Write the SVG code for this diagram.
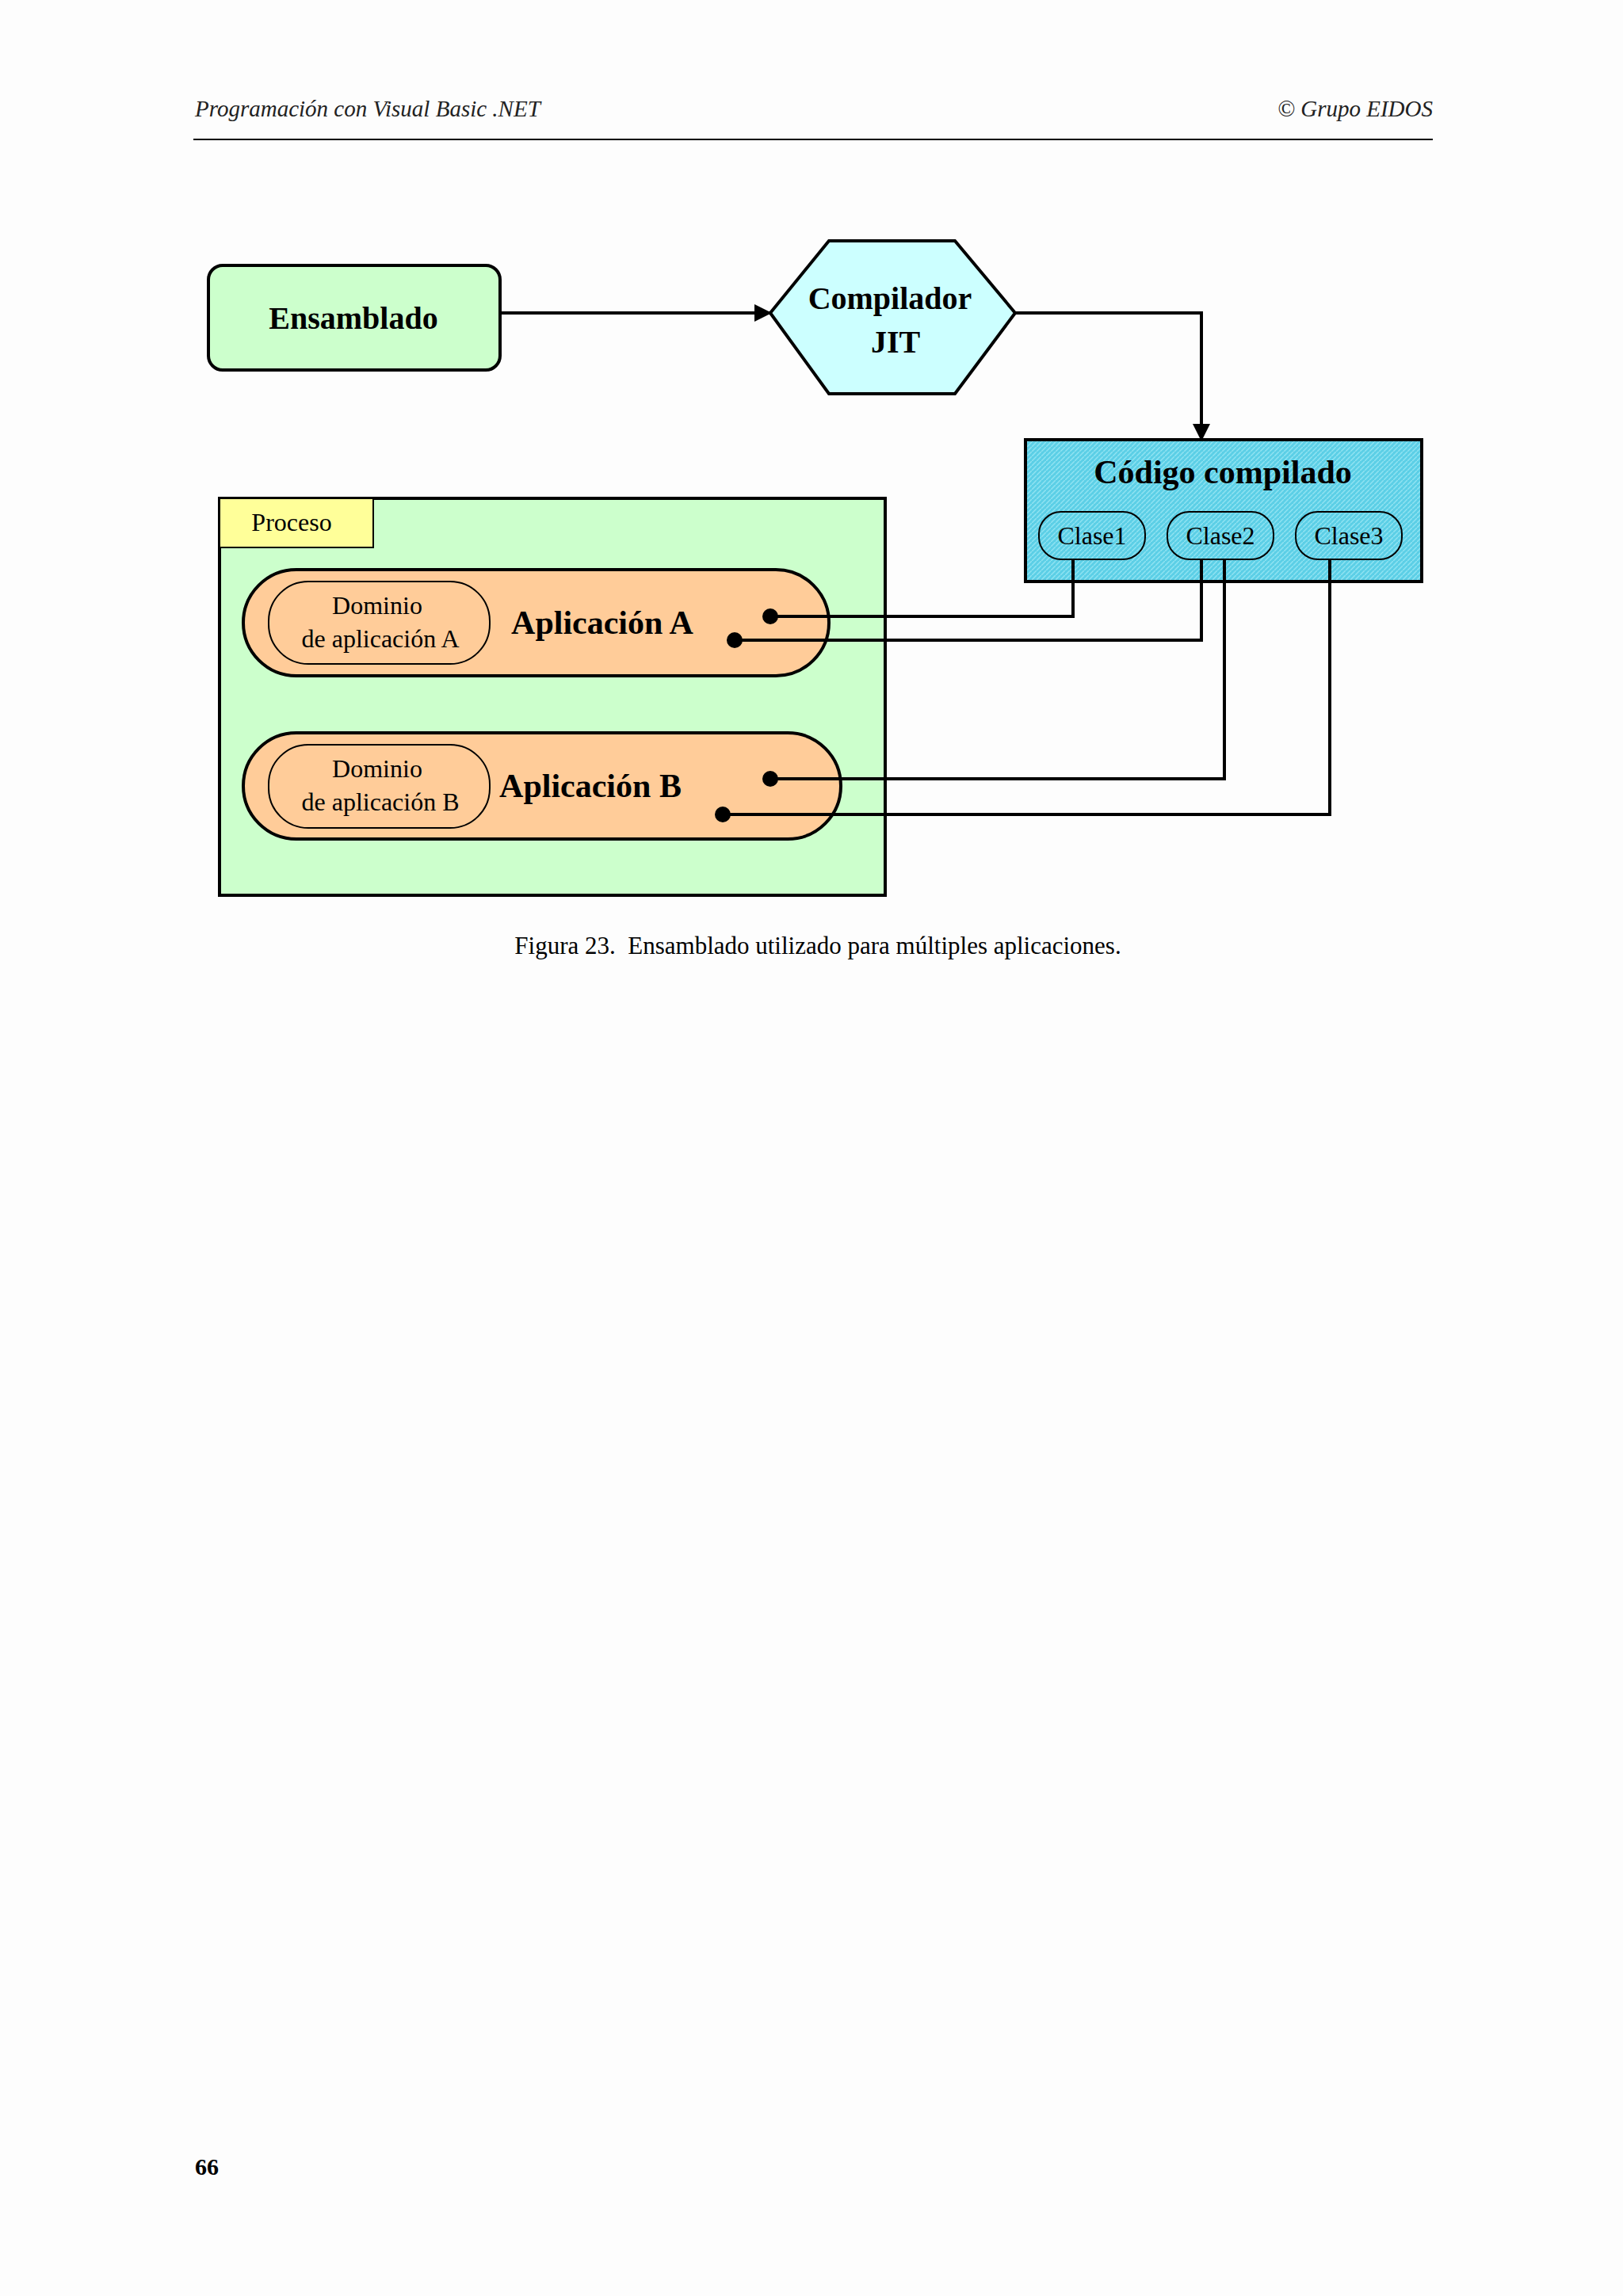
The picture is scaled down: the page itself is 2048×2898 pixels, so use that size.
<svg xmlns="http://www.w3.org/2000/svg" width="2048" height="2898" viewBox="0 0 2048 2898">
<style>
.s{stroke:#000;stroke-width:4}
.t{font-family:"Liberation Serif",serif;fill:#000;text-anchor:middle}
.b{font-weight:bold}
.c{stroke:#000;stroke-width:4;fill:none}
</style>
<defs>
<marker id="ah" markerWidth="22" markerHeight="22" refX="20" refY="11" orient="auto" markerUnits="userSpaceOnUse" viewBox="0 0 22 22"><path d="M0,0L22,11L0,22z" fill="#000"/></marker>
<pattern id="hatch" width="6" height="6" patternUnits="userSpaceOnUse"><rect width="6" height="6" fill="#5ccfe6"/><path d="M0,6L6,0" stroke="#8fe3f2" stroke-width="1.5"/></pattern>
</defs>
<rect width="2048" height="2898" fill="#fdfdfd"/>
<g id="header">
<text x="246" y="147" font-family="Liberation Serif,serif" font-style="italic" font-size="29" fill="#222">Programación con Visual Basic .NET</text>
<text x="1808" y="147" font-family="Liberation Serif,serif" font-style="italic" font-size="29" fill="#222" text-anchor="end">© Grupo EIDOS</text>
<line x1="244" y1="176" x2="1808" y2="176" stroke="#000" stroke-width="2"/>
</g>
<g id="proceso">
<rect x="277" y="629" width="840" height="501" fill="#ccffcc" class="s"/>
<rect x="277" y="629" width="194" height="62" fill="#ffff99" stroke="#000" stroke-width="2"/>
<text x="368" y="670" class="t" font-size="32">Proceso</text>
</g>
<g id="ensamblado">
<rect x="263" y="335" width="368" height="132" rx="18" fill="#ccffcc" class="s"/>
<text x="446" y="415" class="t b" font-size="40">Ensamblado</text>
</g>
<g id="compilador">
<polygon points="972,395 1046,304 1205,304 1281,395 1205,497 1046,497" fill="#ccffff" class="s"/>
<text x="1123" y="390" class="t b" font-size="40">Compilador</text>
<text x="1130" y="445" class="t b" font-size="40">JIT</text>
</g>
<g id="codigo">
<rect x="1294" y="555" width="500" height="179" fill="url(#hatch)" class="s"/>
<text x="1543" y="610" class="t b" font-size="42">Código compilado</text>
<rect x="1311" y="646" width="134" height="60" rx="28" fill="none" stroke="#000" stroke-width="2"/>
<text x="1378" y="687" class="t" font-size="32">Clase1</text>
<rect x="1473" y="646" width="134" height="60" rx="28" fill="none" stroke="#000" stroke-width="2"/>
<text x="1540" y="687" class="t" font-size="32">Clase2</text>
<rect x="1635" y="646" width="134" height="60" rx="28" fill="none" stroke="#000" stroke-width="2"/>
<text x="1702" y="687" class="t" font-size="32">Clase3</text>
</g>
<g id="appA">
<rect x="307" y="719" width="739" height="134" rx="67" fill="#ffcc99" class="s"/>
<rect x="339" y="734" width="279" height="104" rx="50" fill="none" stroke="#000" stroke-width="2"/>
<text x="476" y="775" class="t" font-size="32">Dominio</text>
<text x="480" y="817" class="t" font-size="32">de aplicación A</text>
<text x="760" y="800" class="t b" font-size="42">Aplicación A</text>
</g>
<g id="appB">
<rect x="307" y="925" width="754" height="134" rx="67" fill="#ffcc99" class="s"/>
<rect x="339" y="940" width="279" height="105" rx="50" fill="none" stroke="#000" stroke-width="2"/>
<text x="476" y="981" class="t" font-size="32">Dominio</text>
<text x="480" y="1023" class="t" font-size="32">de aplicación B</text>
<text x="745" y="1006" class="t b" font-size="42">Aplicación B</text>
</g>
<g id="connectors">
<line x1="631" y1="395" x2="972" y2="395" class="c" marker-end="url(#ah)"/>
<polyline points="1281,395 1516,395 1516,555" class="c" marker-end="url(#ah)"/>
<polyline points="972,778 1354,778 1354,706" class="c"/>
<polyline points="927,808 1516,808 1516,706" class="c"/>
<polyline points="972,983 1545,983 1545,706" class="c"/>
<polyline points="912,1028 1678,1028 1678,706" class="c"/>
<circle cx="972" cy="778" r="10"/>
<circle cx="927" cy="808" r="10"/>
<circle cx="972" cy="983" r="10"/>
<circle cx="912" cy="1028" r="10"/>
</g>
<text x="1032" y="1204" class="t" font-size="31" xml:space="preserve">Figura 23.  Ensamblado utilizado para múltiples aplicaciones.</text>
<text x="246" y="2745" font-family="Liberation Serif,serif" font-weight="bold" font-size="30">66</text>
</svg>
